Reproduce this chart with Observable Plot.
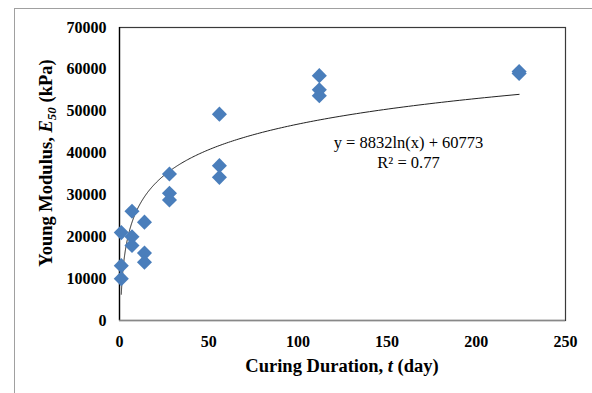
<!DOCTYPE html>
<html>
<head>
<meta charset="utf-8">
<script src="https://cdn.jsdelivr.net/npm/d3@7"></script>
<script src="https://cdn.jsdelivr.net/npm/@observablehq/plot@0.6"></script>
<style>
  html, body { margin: 0; padding: 0; background: #fff; overflow: hidden; }
  #frame { position: absolute; left: 14px; top: 8px; width: 640px; height: 420px;
           border-left: 1.5px solid #a0a0a0; border-top: 1.5px solid #a0a0a0; }
  #chart { position: absolute; left: 0; top: 0; }
  svg { font-family: "Liberation Serif", "Times New Roman", serif; }
</style>
</head>
<body>
<div id="frame"></div>
<div id="chart"></div>
<script>
// Curing duration (days) and Young modulus E50 (kPa)
const days    = [1, 1, 1, 7, 7, 7, 14, 14, 14, 28, 28, 28, 56, 56, 56, 112, 112, 112, 224, 224];
const modulus = [21000, 13100, 10000, 26100, 20000, 17900, 23500, 16100, 13900,
                 35000, 30400, 28800, 49300, 37000, 34200, 58500, 55100, 53700, 59500, 59000];
const xTicks = [0, 50, 100, 150, 200, 250];
const yTicks = [0, 10000, 20000, 30000, 40000, 50000, 60000, 70000];
const eqText = ["y = 8832ln(x) + 60773", "R² = 0.77"];
const eqPos = [{x: 162, y: 40300}];

const points = days.map((d, i) => ({day: d, E: modulus[i]}));

// logarithmic least-squares trendline fitted to the points (as Excel does)
const lx = days.map(Math.log);
const mx = d3.mean(lx), my = d3.mean(modulus);
const slope = d3.sum(lx, (l, i) => (l - mx) * (modulus[i] - my)) / d3.sum(lx, l => (l - mx) ** 2);
const icpt = my - slope * mx;
const [dMin, dMax] = d3.extent(days);
const trend = d3.range(0, 301).map(k => {
  const x = dMin * Math.pow(dMax / dMin, k / 300);
  return {day: x, E: slope * Math.log(x) + icpt};
});

const plot = Plot.plot({
  width: 592,
  height: 393,
  marginLeft: 119,
  marginRight: 27,
  marginTop: 27,
  marginBottom: 73,
  style: {fontFamily: "Liberation Serif, Times New Roman, serif", background: "transparent"},
  x: {domain: [0, 250]},
  y: {domain: [0, 70000]},
  marks: [
    Plot.frame({stroke: "#3a3a3a", strokeWidth: 1.2}),
    Plot.ruleX([0], {stroke: "#000", strokeWidth: 1.3}),
    Plot.ruleY([0], {stroke: "#888", strokeWidth: 1.6}),
    Plot.axisX({ticks: xTicks, tickSize: 0, tickPadding: 15, fontSize: 16, fontWeight: "bold",
                fill: "#000", label: null, tickFormat: d => String(d)}),
    Plot.axisY({ticks: yTicks, tickSize: 0, tickPadding: 13, fontSize: 16, fontWeight: "bold",
                fill: "#000", label: null, tickFormat: d => String(d)}),
    Plot.line(trend, {x: "day", y: "E", stroke: "#222", strokeWidth: 1}),
    Plot.dot(points, {x: "day", y: "E", symbol: "diamond2", r: 6.8, fill: "#4a7ebb", stroke: "none"}),
    Plot.text(eqPos, {x: "x", y: "y", text: () => eqText.join("\n"), fontSize: 16.5, lineHeight: 1.22,
                      textAnchor: "middle", fill: "#000"})
  ]
});

document.getElementById("chart").appendChild(plot);

const svg = d3.select(plot);
// x-axis title with italic t
const xt = svg.append("text")
  .attr("x", 342).attr("y", 372)
  .attr("text-anchor", "middle")
  .attr("font-size", 18.5).attr("font-weight", "bold").attr("fill", "#000");
xt.append("tspan").text("Curing Duration, ");
xt.append("tspan").attr("font-style", "italic").text("t");
xt.append("tspan").text(" (day)");

// y-axis title with italic E50
const yt = svg.append("text")
  .attr("transform", "translate(52,163) rotate(-90)")
  .attr("text-anchor", "middle")
  .attr("font-size", 18.5).attr("font-weight", "bold").attr("fill", "#000");
yt.append("tspan").text("Young Modulus, ");
yt.append("tspan").attr("font-style", "italic").text("E");
yt.append("tspan").attr("font-style", "italic").attr("font-size", 13).attr("dy", 4).text("50");
yt.append("tspan").attr("dy", -4).text(" (kPa)");
</script>
</body>
</html>
